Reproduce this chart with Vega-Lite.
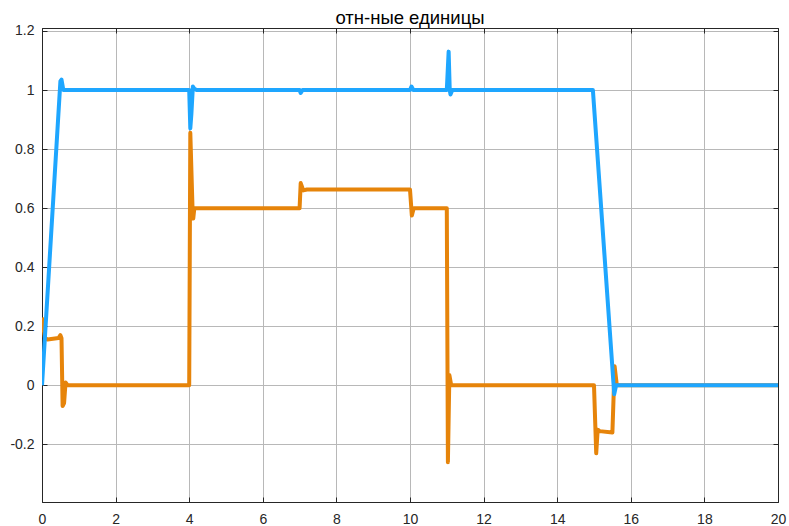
{
  "$schema": "https://vega.github.io/schema/vega-lite/v6.json",
  "width": 736,
  "height": 474,
  "autosize": {"type": "none"},
  "padding": {"left": 42, "top": 28, "right": 11, "bottom": 24},
  "background": "white",
  "config": {
    "font": "Liberation Sans",
    "view": {"stroke": "#262626", "strokeWidth": 1},
    "axis": {
      "domainColor": "#262626",
      "tickColor": "#262626",
      "labelColor": "#262626",
      "labelFontSize": 14,
      "gridColor": "#b8b8b8",
      "gridWidth": 1,
      "titleFontSize": 13
    }
  },
  "title": {
    "text": "отн-ные единицы",
    "fontSize": 18.5,
    "fontWeight": "normal",
    "color": "#000000",
    "anchor": "middle",
    "offset": 6,
    "dy": 10
  },
  "data": {
    "values": [
      {"t": 0.0, "v": 0.23, "s": "2"},
      {"t": 0.08, "v": 0.16, "s": "2"},
      {"t": 0.15, "v": 0.155, "s": "2"},
      {"t": 0.45, "v": 0.16, "s": "2"},
      {"t": 0.5, "v": 0.17, "s": "2"},
      {"t": 0.53, "v": 0.16, "s": "2"},
      {"t": 0.56, "v": -0.07, "s": "2"},
      {"t": 0.6, "v": -0.06, "s": "2"},
      {"t": 0.64, "v": 0.01, "s": "2"},
      {"t": 0.7, "v": 0.0, "s": "2"},
      {"t": 4.0, "v": 0.0, "s": "2"},
      {"t": 4.03, "v": 0.855, "s": "2"},
      {"t": 4.09, "v": 0.6, "s": "2"},
      {"t": 4.11, "v": 0.565, "s": "2"},
      {"t": 4.14, "v": 0.6, "s": "2"},
      {"t": 4.2, "v": 0.6, "s": "2"},
      {"t": 7.0, "v": 0.6, "s": "2"},
      {"t": 7.03, "v": 0.685, "s": "2"},
      {"t": 7.1, "v": 0.66, "s": "2"},
      {"t": 7.2, "v": 0.663, "s": "2"},
      {"t": 10.0, "v": 0.663, "s": "2"},
      {"t": 10.05, "v": 0.575, "s": "2"},
      {"t": 10.1, "v": 0.6, "s": "2"},
      {"t": 11.0, "v": 0.6, "s": "2"},
      {"t": 11.03, "v": -0.26, "s": "2"},
      {"t": 11.07, "v": 0.035, "s": "2"},
      {"t": 11.12, "v": 0.0, "s": "2"},
      {"t": 15.0, "v": 0.0, "s": "2"},
      {"t": 15.06, "v": -0.23, "s": "2"},
      {"t": 15.1, "v": -0.15, "s": "2"},
      {"t": 15.15, "v": -0.155, "s": "2"},
      {"t": 15.5, "v": -0.16, "s": "2"},
      {"t": 15.56, "v": 0.065, "s": "2"},
      {"t": 15.62, "v": 0.0, "s": "2"},
      {"t": 20.0, "v": 0.0, "s": "2"},

      {"t": 0.0, "v": 0.0, "s": "1"},
      {"t": 0.5, "v": 1.03, "s": "1"},
      {"t": 0.53, "v": 1.035, "s": "1"},
      {"t": 0.58, "v": 1.0, "s": "1"},
      {"t": 4.0, "v": 1.0, "s": "1"},
      {"t": 4.03, "v": 0.87, "s": "1"},
      {"t": 4.06, "v": 0.92, "s": "1"},
      {"t": 4.1, "v": 1.012, "s": "1"},
      {"t": 4.14, "v": 1.004, "s": "1"},
      {"t": 4.2, "v": 1.0, "s": "1"},
      {"t": 7.0, "v": 1.0, "s": "1"},
      {"t": 7.03, "v": 0.99, "s": "1"},
      {"t": 7.08, "v": 1.0, "s": "1"},
      {"t": 10.0, "v": 1.0, "s": "1"},
      {"t": 10.04, "v": 1.012, "s": "1"},
      {"t": 10.09, "v": 1.0, "s": "1"},
      {"t": 11.0, "v": 1.0, "s": "1"},
      {"t": 11.05, "v": 1.13, "s": "1"},
      {"t": 11.08, "v": 1.0, "s": "1"},
      {"t": 11.1, "v": 0.985, "s": "1"},
      {"t": 11.15, "v": 1.0, "s": "1"},
      {"t": 14.97, "v": 1.0, "s": "1"},
      {"t": 15.55, "v": -0.03, "s": "1"},
      {"t": 15.6, "v": 0.0, "s": "1"},
      {"t": 20.0, "v": 0.0, "s": "1"}
    ]
  },
  "resolve": {"axis": {"x": "independent", "y": "independent"}},
  "layer": [
    {
      "mark": {"type": "line", "strokeWidth": 4, "strokeJoin": "round", "clip": true},
      "encoding": {
        "x": {
          "field": "t", "type": "quantitative",
          "scale": {"domain": [0, 20], "nice": false, "zero": false},
          "axis": {
            "title": null, "values": [0, 2, 4, 6, 8, 10, 12, 14, 16, 18, 20],
            "grid": true, "tickSize": -5, "labelPadding": 15, "domain": true,
            "labelFlush": false
          }
        },
        "y": {
          "field": "v", "type": "quantitative",
          "scale": {"domain": [-0.395, 1.21], "nice": false, "zero": false},
          "axis": {
            "title": null, "values": [-0.2, 0, 0.2, 0.4, 0.6, 0.8, 1, 1.2],
            "labelExpr": "toString(round(datum.value * 10) / 10)",
            "grid": true, "tickSize": -5, "labelPadding": 13, "domain": true
          }
        },
        "color": {
          "field": "s", "type": "nominal",
          "scale": {"domain": ["2", "1"], "range": ["#e6840a", "#1ea6ff"]},
          "legend": null
        },
        "order": {"field": "t", "type": "quantitative"},
        "zindex": {"value": 1}
      }
    },
    {
      "mark": {"type": "rule", "opacity": 0},
      "encoding": {
        "x": {
          "datum": 0, "type": "quantitative",
          "axis": {
            "orient": "top", "title": null, "labels": false, "grid": false,
            "values": [0, 2, 4, 6, 8, 10, 12, 14, 16, 18, 20], "tickSize": -5
          }
        },
        "y": {
          "datum": 0, "type": "quantitative",
          "axis": {
            "orient": "right", "title": null, "labels": false, "grid": false,
            "values": [-0.2, 0, 0.2, 0.4, 0.6, 0.8, 1, 1.2], "tickSize": -5
          }
        }
      }
    }
  ]
}
